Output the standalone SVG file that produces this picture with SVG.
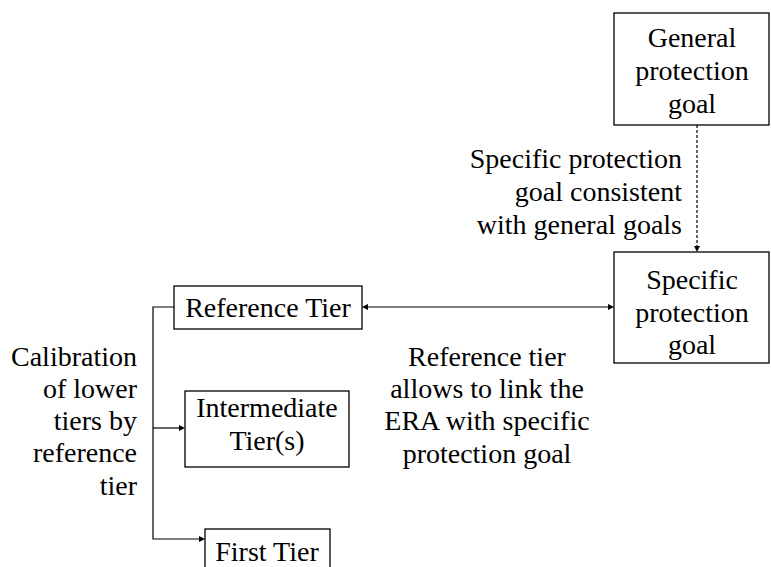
<svg xmlns="http://www.w3.org/2000/svg" width="771" height="567" viewBox="0 0 771 567">
<rect width="771" height="567" fill="#fff"/>
<g id="connectors" stroke="#000" stroke-width="1.2" fill="none">
<line x1="697" y1="125" x2="697" y2="246" stroke-dasharray="3,2"/>
<polygon points="694,246 700,246 697,252" fill="#000" stroke="none"/>
<line x1="368" y1="307" x2="608" y2="307"/>
<polygon points="362,307 368,304 368,310" fill="#000" stroke="none"/>
<polygon points="614,307 608,304 608,310" fill="#000" stroke="none"/>
<polyline points="174,307 153,307 153,539 199,539"/>
<polygon points="205,539 199,536 199,542" fill="#000" stroke="none"/>
<line x1="153" y1="428" x2="179" y2="428"/>
<polygon points="185,428 179,425 179,431" fill="#000" stroke="none"/>
</g>
<g id="general-goal">
<rect x="614" y="13" width="155" height="112" fill="#fff" stroke="#000" stroke-width="1.3"/>
<text font-family="Liberation Serif" font-size="28" text-anchor="middle" x="692" y="47">General</text>
<text font-family="Liberation Serif" font-size="28" text-anchor="middle" x="692" y="80">protection</text>
<text font-family="Liberation Serif" font-size="28" text-anchor="middle" x="692" y="113">goal</text>
</g>
<g id="consistency-label">
<text font-family="Liberation Serif" font-size="28" text-anchor="end" x="682" y="168">Specific protection</text>
<text font-family="Liberation Serif" font-size="28" text-anchor="end" x="682" y="201">goal consistent</text>
<text font-family="Liberation Serif" font-size="28" text-anchor="end" x="682" y="234">with general goals</text>
</g>
<g id="specific-goal">
<rect x="614" y="252" width="155" height="111" fill="#fff" stroke="#000" stroke-width="1.3"/>
<text font-family="Liberation Serif" font-size="28" text-anchor="middle" x="692" y="289">Specific</text>
<text font-family="Liberation Serif" font-size="28" text-anchor="middle" x="692" y="322">protection</text>
<text font-family="Liberation Serif" font-size="28" text-anchor="middle" x="692" y="354">goal</text>
</g>
<g id="reference-tier">
<rect x="174" y="286" width="188" height="43" fill="#fff" stroke="#000" stroke-width="1.3"/>
<text font-family="Liberation Serif" font-size="28" text-anchor="middle" x="268" y="317">Reference Tier</text>
</g>
<g id="link-label">
<text font-family="Liberation Serif" font-size="28" text-anchor="middle" x="487" y="366">Reference tier</text>
<text font-family="Liberation Serif" font-size="28" text-anchor="middle" x="487" y="398">allows to link the</text>
<text font-family="Liberation Serif" font-size="28" text-anchor="middle" x="487" y="430">ERA with specific</text>
<text font-family="Liberation Serif" font-size="28" text-anchor="middle" x="487" y="463">protection goal</text>
</g>
<g id="calibration-label">
<text font-family="Liberation Serif" font-size="28" text-anchor="end" x="137" y="366">Calibration</text>
<text font-family="Liberation Serif" font-size="28" text-anchor="end" x="137" y="398">of lower</text>
<text font-family="Liberation Serif" font-size="28" text-anchor="end" x="137" y="430">tiers by</text>
<text font-family="Liberation Serif" font-size="28" text-anchor="end" x="137" y="462">reference</text>
<text font-family="Liberation Serif" font-size="28" text-anchor="end" x="137" y="495">tier</text>
</g>
<g id="intermediate-tier">
<rect x="185" y="391" width="164" height="76" fill="#fff" stroke="#000" stroke-width="1.3"/>
<text font-family="Liberation Serif" font-size="28" text-anchor="middle" x="267" y="417">Intermediate</text>
<text font-family="Liberation Serif" font-size="28" text-anchor="middle" x="267" y="450">Tier(s)</text>
</g>
<g id="first-tier">
<rect x="205" y="529" width="125" height="45" fill="#fff" stroke="#000" stroke-width="1.3"/>
<text font-family="Liberation Serif" font-size="28" text-anchor="middle" x="267" y="561">First Tier</text>
</g>
</svg>
